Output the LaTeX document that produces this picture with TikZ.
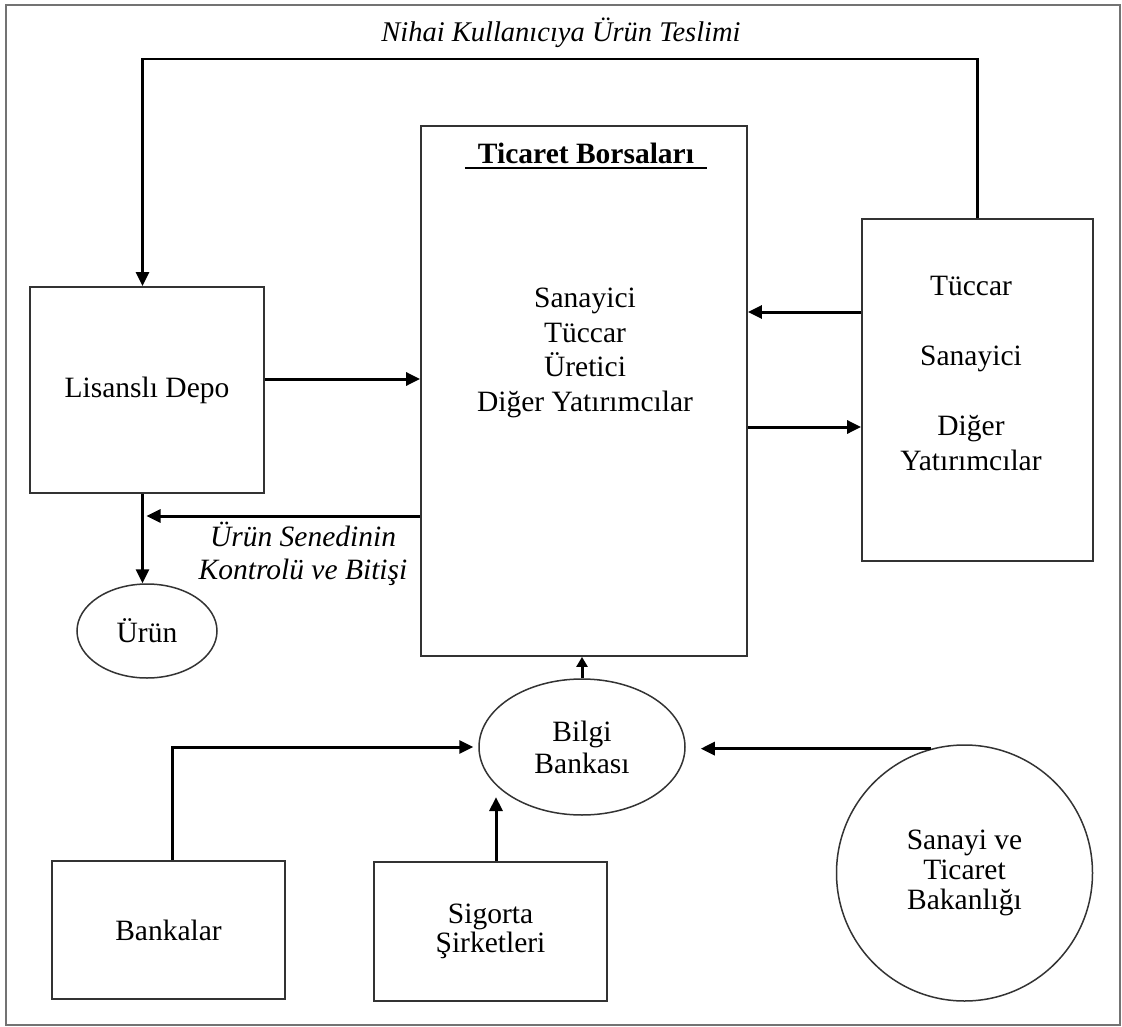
\documentclass[tikz,border=0pt]{standalone}
\usepackage{fontspec}
\setmainfont{Liberation Serif}
\usetikzlibrary{arrows.meta,shapes.geometric}
\begin{document}
\begin{tikzpicture}[x=1pt,y=-1pt,
  every node/.style={font=\fontsize{29.5}{34.5}\selectfont, inner sep=0pt, align=center},
  box/.style={draw=black!80, line width=1.8pt, rectangle},
  oval/.style={draw=black!80, line width=1.5pt, ellipse},
  arr/.style={line width=3pt, -{Triangle[length=14pt,width=13pt]}},
  lbl/.style={font=\fontsize{29.5}{33}\selectfont\itshape}
]
\useasboundingbox (0,0) rectangle (1122,1027);
% outer frame
\draw[black!55, line width=1.5pt] (6,5) rectangle (1120,1025);

% helper levels and columns for the connectors
\coordinate (toplvl) at (0,59);
\coordinate (lvlA) at (0,379);
\coordinate (lvlB) at (0,516);
\coordinate (lvlC) at (0,312);
\coordinate (lvlD) at (0,427);
\coordinate (c1) at (142.5,0);
\coordinate (c2) at (172,0);
\coordinate (c3) at (496,0);

% title
\node[font=\fontsize{28.5}{30}\selectfont\itshape] (title) at (561,33) {Nihai Kullanıcıya Ürün Teslimi};

% central exchange box
\node[box, minimum width=326pt, minimum height=530pt] (borsa) at (584,391) {};
\node[font=\fontsize{29.5}{32}\selectfont\bfseries] (tbt) at (586,153) {Ticaret Borsaları};
\draw[line width=1.8pt] ([xshift=-13pt,yshift=-5pt]tbt.base west) -- ([xshift=13pt,yshift=-5pt]tbt.base east);
\node (borsatxt) at (585,353) {Sanayici\\Tüccar\\Üretici\\Diğer Yatırımcılar};

% licensed warehouse and product
\node[box, minimum width=234pt, minimum height=206pt] (depo) at (147,390) {Lisanslı Depo};
\node[oval, minimum width=140pt, minimum height=94pt] (urun) at (147,631) {Ürün};

% traders box
\node[box, minimum width=231pt, minimum height=342pt] (tuccar) at (977.5,390) {};
\node[font=\fontsize{29.5}{35}\selectfont] (tuccartxt) at (971,373) {Tüccar\\[35pt]Sanayici\\[35pt]Diğer\\Yatırımcılar};

% information bank and its sources
\node[oval, minimum width=206pt, minimum height=136pt, font=\fontsize{29.5}{32}\selectfont] (bb) at (582,747) {Bilgi\\Bankası};
\node[box, minimum width=233pt, minimum height=138pt] (bank) at (168.5,930) {Bankalar};
\node[box, minimum width=233pt, minimum height=139pt, font=\fontsize{29.5}{29}\selectfont] (sig) at (490.5,931.5) {Sigorta\\Şirketleri};
\node[draw=black!80, line width=1.5pt, circle, minimum size=256pt, font=\fontsize{29.5}{30}\selectfont] (sb) at (964.5,873) {Sanayi ve\\Ticaret\\Bakanlığı};

% edge label
\node[lbl] (kontrol) at (303,554) {Ürün Senedinin\\Kontrolü ve Bitişi};

% connectors
\draw[arr, line width=2.6pt] (tuccar.north) -- (tuccar.north |- toplvl) -- (c1 |- toplvl) -- (depo.north -| c1);
\draw[arr] (depo.east |- lvlA) -- (borsa.west |- lvlA);
\draw[arr, shorten >=4pt] (borsa.west |- lvlB) -- (c1 |- lvlB);
\draw[arr] (depo.south -| c1) -- (urun.north -| c1);
\draw[arr] (tuccar.west |- lvlC) -- (borsa.east |- lvlC);
\draw[arr] (borsa.east |- lvlD) -- (tuccar.west |- lvlD);
\draw[line width=3pt, -{Triangle[length=10pt,width=11pt]}] (bb.north) -- (bb.north |- borsa.south);
\draw[arr, shorten >=5pt] (bank.north -| c2) |- (bb.west);
\draw[arr, shorten >=13pt] (sig.north -| c3) -- (c3 |- bb.203);
\draw[arr, shorten >=15pt] (sb.105) -- (sb.105 -| bb.east);
\end{tikzpicture}
\end{document}
